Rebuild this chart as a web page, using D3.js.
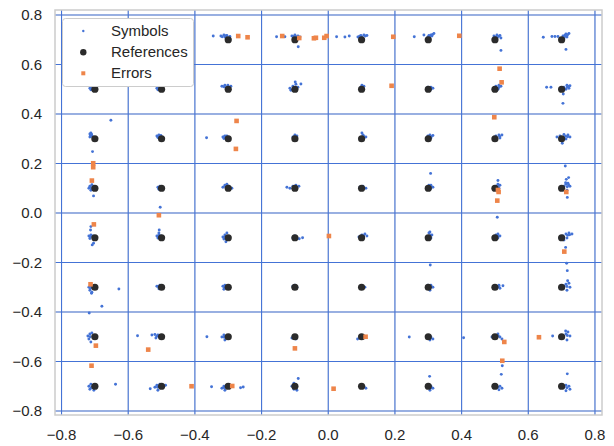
<!DOCTYPE html>
<html>
<head>
<meta charset="utf-8">
<script src="https://cdn.jsdelivr.net/npm/d3@7"></script>
<style>
  body { margin: 0; background: white; }
  text { font-family: "Liberation Sans", Arial, sans-serif; fill: #262626; }
</style>
</head>
<body>
<div id="chart"></div>
<script>
// constellation levels (64-QAM references are levels x levels)
var levels = [-0.7, -0.5, -0.3, -0.1, 0.1, 0.3, 0.5, 0.7];
var ticks = [-0.8, -0.6, -0.4, -0.2, 0.0, 0.2, 0.4, 0.6, 0.8];
// decision boundaries drawn as blue lines
var boundaries = [-0.8, -0.6, -0.4, -0.2, 0.0, 0.2, 0.4, 0.6, 0.8];

// received symbols [I, Q]
var symbols = [
  // row 0.7
  [-0.322,0.715],[-0.313,0.719],[-0.304,0.717],[-0.295,0.713],[-0.310,0.711],[-0.318,0.712],[-0.307,0.716],
  [-0.109,0.715],[-0.100,0.719],[-0.091,0.715],[-0.103,0.707],[-0.085,0.711],[-0.105,0.713],[-0.095,0.712],
  [0.089,0.711],[0.098,0.717],[0.107,0.719],[0.116,0.717],[0.101,0.711],[0.094,0.714],[0.111,0.715],
  [0.299,0.711],[0.308,0.719],[0.317,0.725],[0.311,0.715],[0.302,0.717],[0.313,0.721],[0.305,0.713],
  [0.497,0.715],[0.506,0.719],[0.515,0.717],[0.518,0.707],[0.506,0.707],[0.511,0.713],[0.502,0.711],
  [0.671,0.713],[0.680,0.713],[0.689,0.713],[0.704,0.715],[0.713,0.723],[0.722,0.725],[0.716,0.711],[0.707,0.707],
  [0.710,0.718],[0.718,0.720],[0.712,0.714],
  [-0.345,0.715],[-0.155,0.712],[-0.130,0.712],[-0.090,0.672],[0.025,0.712],[0.050,0.711],[0.063,0.715],
  [0.258,0.712],[0.287,0.719],[0.518,0.657],[0.645,0.710],[0.713,0.661],
  // row 0.5
  [-0.715,0.504],[-0.709,0.508],[-0.706,0.498],[-0.712,0.498],[-0.711,0.503],
  [-0.514,0.504],[-0.508,0.508],[-0.502,0.504],[-0.511,0.498],[-0.508,0.502],
  [-0.319,0.512],[-0.310,0.516],[-0.301,0.516],[-0.292,0.512],[-0.307,0.506],[-0.313,0.510],
  [-0.115,0.504],[-0.106,0.512],[-0.097,0.520],[-0.091,0.508],[-0.112,0.496],[-0.099,0.529],[-0.082,0.521],
  [0.101,0.516],[0.107,0.512],[0.098,0.508],
  [0.299,0.508],[0.308,0.508],[0.314,0.504],[0.305,0.496],[0.309,0.503],
  [0.503,0.512],[0.512,0.516],[0.518,0.512],[0.509,0.500],[0.512,0.507],
  [0.707,0.508],[0.716,0.516],[0.725,0.514],[0.722,0.504],[0.713,0.500],[0.717,0.509],[0.720,0.511],
  [0.655,0.508],[0.668,0.508],[0.705,0.481],[0.704,0.443],[-0.652,0.375],
  // row 0.3
  [-0.715,0.319],[-0.712,0.323],[-0.709,0.311],[-0.715,0.307],[-0.706,0.307],[-0.713,0.314],[-0.710,0.318],
  [-0.514,0.311],[-0.508,0.315],[-0.502,0.313],[-0.511,0.305],[-0.509,0.310],
  [-0.316,0.307],[-0.310,0.311],[-0.304,0.311],[-0.313,0.301],[-0.312,0.307],
  [-0.106,0.307],[-0.100,0.315],[-0.094,0.311],[-0.097,0.299],[-0.101,0.309],
  [0.101,0.323],[0.104,0.315],[0.113,0.307],[0.107,0.303],[0.106,0.311],
  [0.299,0.311],[0.305,0.315],[0.314,0.313],[0.308,0.303],[0.309,0.309],
  [0.503,0.311],[0.512,0.315],[0.521,0.315],[0.515,0.303],[0.514,0.310],
  [0.686,0.307],[0.695,0.311],[0.707,0.317],[0.719,0.315],[0.725,0.307],[0.713,0.299],[0.701,0.291],[0.702,0.282],
  [0.712,0.310],[0.718,0.308],
  [-0.707,0.248],[-0.365,0.304],
  // row 0.1
  [-0.718,0.100],[-0.715,0.108],[-0.709,0.114],[-0.712,0.092],[-0.706,0.096],[-0.713,0.103],
  [-0.511,0.104],[-0.505,0.108],[-0.508,0.096],[-0.509,0.102],
  [-0.316,0.104],[-0.310,0.112],[-0.304,0.116],[-0.298,0.108],[-0.289,0.100],[-0.308,0.106],
  [-0.124,0.104],[-0.115,0.100],[-0.106,0.108],[-0.097,0.112],[-0.088,0.108],[-0.102,0.104],
  [0.095,0.104],[0.104,0.108],[0.113,0.100],
  [0.302,0.112],[0.308,0.112],[0.314,0.104],[0.305,0.096],[0.308,0.105],
  [0.503,0.108],[0.509,0.116],[0.515,0.112],[0.512,0.100],[0.510,0.107],
  [0.707,0.108],[0.713,0.116],[0.719,0.120],[0.725,0.108],[0.716,0.092],[0.717,0.106],[0.721,0.113],
  [-0.704,0.069],[-0.504,0.023],[0.307,0.160],[0.509,0.131],
  [0.711,0.190],[0.721,0.143],[0.714,0.136],[0.712,0.122],[0.717,0.063],
  // row -0.1
  [-0.718,-0.093],[-0.712,-0.089],[-0.706,-0.093],[-0.715,-0.103],[-0.713,-0.096],
  [-0.514,-0.093],[-0.508,-0.089],[-0.502,-0.093],[-0.508,-0.081],[-0.511,-0.101],[-0.509,-0.095],
  [-0.316,-0.097],[-0.310,-0.089],[-0.304,-0.081],[-0.313,-0.105],[-0.309,-0.095],
  [-0.106,-0.101],[-0.100,-0.093],[-0.094,-0.101],
  [0.092,-0.097],[0.101,-0.089],[0.110,-0.085],[0.116,-0.093],[0.106,-0.092],
  [0.302,-0.081],[0.305,-0.077],[0.311,-0.089],[0.308,-0.101],[0.307,-0.090],
  [0.503,-0.089],[0.509,-0.085],[0.515,-0.093],[0.509,-0.101],[0.510,-0.093],
  [0.695,-0.101],[0.704,-0.093],[0.713,-0.085],[0.722,-0.081],[0.731,-0.085],[0.716,-0.101],[0.707,-0.109],
  [0.718,-0.090],[0.724,-0.088],
  [-0.712,-0.055],[-0.713,-0.069],[-0.708,-0.129],[-0.704,-0.122],[-0.507,-0.069],[-0.307,-0.116],
  [-0.087,-0.104],[-0.077,-0.100],[0.507,-0.017],[0.712,-0.139],
  // row -0.3
  [-0.718,-0.300],[-0.712,-0.294],[-0.706,-0.300],[-0.715,-0.312],[-0.709,-0.320],[-0.713,-0.304],
  [-0.514,-0.296],[-0.505,-0.292],[-0.496,-0.296],[-0.508,-0.306],[-0.509,-0.298],
  [-0.316,-0.296],[-0.310,-0.292],[-0.304,-0.296],[-0.313,-0.308],[-0.311,-0.300],
  [-0.106,-0.296],[-0.100,-0.292],[-0.094,-0.300],
  [0.095,-0.300],[0.101,-0.294],[0.110,-0.300],
  [0.299,-0.292],[0.308,-0.292],[0.314,-0.300],[0.305,-0.312],[0.307,-0.300],
  [0.503,-0.296],[0.512,-0.292],[0.524,-0.294],[0.515,-0.304],[0.512,-0.298],
  [0.707,-0.296],[0.713,-0.288],[0.722,-0.284],[0.725,-0.300],[0.716,-0.312],[0.716,-0.297],
  [-0.710,-0.324],[-0.628,-0.307],[-0.679,-0.377],[-0.717,-0.404],
  [0.306,-0.210],[0.715,-0.203],[0.717,-0.233],[0.718,-0.274],
  // row -0.5
  [-0.721,-0.497],[-0.715,-0.489],[-0.709,-0.485],[-0.718,-0.509],[-0.712,-0.521],[-0.714,-0.500],
  [-0.529,-0.493],[-0.520,-0.491],[-0.511,-0.493],[-0.505,-0.501],[-0.517,-0.505],[-0.514,-0.498],
  [-0.319,-0.501],[-0.313,-0.493],[-0.304,-0.497],[-0.310,-0.513],[-0.312,-0.502],
  [-0.109,-0.505],[-0.103,-0.501],[-0.097,-0.509],
  [0.095,-0.501],[0.101,-0.497],
  [0.302,-0.497],[0.308,-0.501],[0.314,-0.509],[0.305,-0.513],[0.307,-0.505],
  [0.491,-0.501],[0.500,-0.497],[0.509,-0.489],[0.515,-0.501],[0.521,-0.509],[0.510,-0.497],
  [0.704,-0.501],[0.713,-0.489],[0.719,-0.481],[0.725,-0.497],[0.716,-0.513],[0.712,-0.477],[0.717,-0.495],
  [-0.572,-0.496],[-0.364,-0.500],[0.088,-0.509],[0.243,-0.501],[0.406,-0.504],
  [0.673,-0.497],[0.522,-0.617],[0.519,-0.652],
  // row -0.7
  [-0.718,-0.700],[-0.712,-0.692],[-0.706,-0.700],[-0.715,-0.712],[-0.703,-0.716],[-0.711,-0.706],
  [-0.520,-0.704],[-0.514,-0.696],[-0.505,-0.692],[-0.496,-0.696],[-0.511,-0.716],[-0.512,-0.704],
  [-0.319,-0.708],[-0.313,-0.700],[-0.304,-0.696],[-0.310,-0.716],[-0.312,-0.706],
  [-0.109,-0.700],[-0.103,-0.688],[-0.097,-0.696],[-0.103,-0.712],[-0.094,-0.716],
  [0.101,-0.704],[0.107,-0.700],[0.113,-0.708],
  [0.299,-0.704],[0.308,-0.700],[0.314,-0.708],[0.305,-0.716],[0.308,-0.707],
  [0.509,-0.704],[0.515,-0.700],[0.521,-0.708],[0.512,-0.714],
  [0.707,-0.704],[0.713,-0.696],[0.722,-0.700],[0.725,-0.712],[0.713,-0.718],[0.716,-0.706],
  [-0.638,-0.692],[-0.534,-0.710],[-0.488,-0.696],[-0.350,-0.702],[-0.263,-0.706],
  [-0.255,-0.703],[-0.090,-0.669],[0.304,-0.660],[0.717,-0.650]
];

// wrongly decided symbols
var errors = [
  [-0.270,0.715],[-0.242,0.710],[-0.138,0.715],[-0.087,0.707],[-0.043,0.706],[-0.037,0.708],
  [-0.012,0.708],[-0.005,0.715],[0.195,0.712],[0.393,0.716],
  [0.190,0.514],[0.514,0.583],[0.520,0.528],[-0.275,0.372],[0.498,0.387],
  [-0.277,0.259],[-0.705,0.201],[-0.705,0.185],[-0.709,0.131],
  [0.509,0.093],[0.511,0.085],[0.507,0.050],[0.714,0.085],[-0.508,-0.009],
  [-0.703,-0.046],[0.002,-0.093],[0.708,-0.156],[-0.713,-0.288],
  [-0.697,-0.536],[-0.540,-0.552],[-0.100,-0.547],[0.112,-0.500],[0.528,-0.521],
  [0.632,-0.502],[0.522,-0.597],[-0.710,-0.617],
  [-0.410,-0.700],[-0.288,-0.699],[0.016,-0.710]
];

var blue = "#4473d6", orange = "#ee854a", dark = "#2b2b2b";

var references = [];
levels.forEach(function(i) {
  levels.forEach(function(q) { references.push([i, q]); });
});

var W = 614, H = 446;
var svg = d3.select("#chart").append("svg")
  .attr("width", W).attr("height", H);

var x = d3.scaleLinear().domain([-0.8196, 0.8211]).range([55, 602]);
var y = d3.scaleLinear().domain([-0.8162, 0.8202]).range([415, 10]);

var fmt = function(v) { return d3.format(".1f")(v).replace("-", "\u2212"); };

// gray grid
svg.append("g").selectAll("line").data(ticks).enter().append("line")
  .attr("x1", function(d) { return x(d); }).attr("x2", function(d) { return x(d); })
  .attr("y1", 10).attr("y2", 415)
  .attr("stroke", "#dddddd").attr("stroke-width", 1);
svg.append("g").selectAll("line").data(ticks).enter().append("line")
  .attr("y1", function(d) { return y(d); }).attr("y2", function(d) { return y(d); })
  .attr("x1", 55).attr("x2", 602)
  .attr("stroke", "#dddddd").attr("stroke-width", 1);

// blue boundary lines
svg.append("g").selectAll("line").data(boundaries).enter().append("line")
  .attr("x1", function(d) { return x(d); }).attr("x2", function(d) { return x(d); })
  .attr("y1", 10).attr("y2", 415)
  .attr("stroke", blue).attr("stroke-width", 1.1);
svg.append("g").selectAll("line").data(boundaries).enter().append("line")
  .attr("y1", function(d) { return y(d); }).attr("y2", function(d) { return y(d); })
  .attr("x1", 55).attr("x2", 602)
  .attr("stroke", blue).attr("stroke-width", 1.1);

// spines
svg.append("rect")
  .attr("x", 55).attr("y", 10).attr("width", 547).attr("height", 405)
  .attr("fill", "none").attr("stroke", "#cccccc").attr("stroke-width", 1.5);

// tick labels
svg.append("g").selectAll("text").data(ticks).enter().append("text")
  .attr("x", function(d) { return x(d); })
  .attr("y", 439.5)
  .attr("text-anchor", "middle")
  .style("font-size", "15px")
  .text(fmt);
svg.append("g").selectAll("text").data(ticks).enter().append("text")
  .attr("x", 42)
  .attr("y", function(d) { return y(d) + 5.3; })
  .attr("text-anchor", "end")
  .style("font-size", "15px")
  .text(fmt);

// points
svg.append("g").selectAll("circle").data(symbols).enter().append("circle")
  .attr("cx", function(d) { return x(d[0]); })
  .attr("cy", function(d) { return y(d[1]); })
  .attr("r", 1.45)
  .attr("fill", blue);

svg.append("g").selectAll("circle").data(references).enter().append("circle")
  .attr("cx", function(d) { return x(d[0]); })
  .attr("cy", function(d) { return y(d[1]); })
  .attr("r", 3.6)
  .attr("fill", dark);

svg.append("g").selectAll("rect").data(errors).enter().append("rect")
  .attr("x", function(d) { return x(d[0]) - 2.3; })
  .attr("y", function(d) { return y(d[1]) - 2.3; })
  .attr("width", 4.6).attr("height", 4.6)
  .attr("fill", orange);

// legend
var lg = svg.append("g");
lg.append("rect")
  .attr("x", 62.5).attr("y", 18.5).attr("width", 131).attr("height", 68)
  .attr("rx", 3).attr("fill", "white").attr("stroke", "#cccccc").attr("stroke-width", 1);
lg.append("circle").attr("cx", 83.3).attr("cy", 31).attr("r", 1.2).attr("fill", blue);
lg.append("circle").attr("cx", 83.3).attr("cy", 52.3).attr("r", 3.2).attr("fill", dark);
lg.append("rect").attr("x", 81.3).attr("y", 71.3).attr("width", 4).attr("height", 4).attr("fill", orange);
var labels = ["Symbols", "References", "Errors"];
lg.selectAll("text.lab").data(labels).enter().append("text")
  .attr("class", "lab")
  .attr("x", 111)
  .attr("y", function(d, i) { return 35.5 + i * 21.2; })
  .style("font-size", "15px")
  .text(function(d) { return d; });
</script>
</body>
</html>
